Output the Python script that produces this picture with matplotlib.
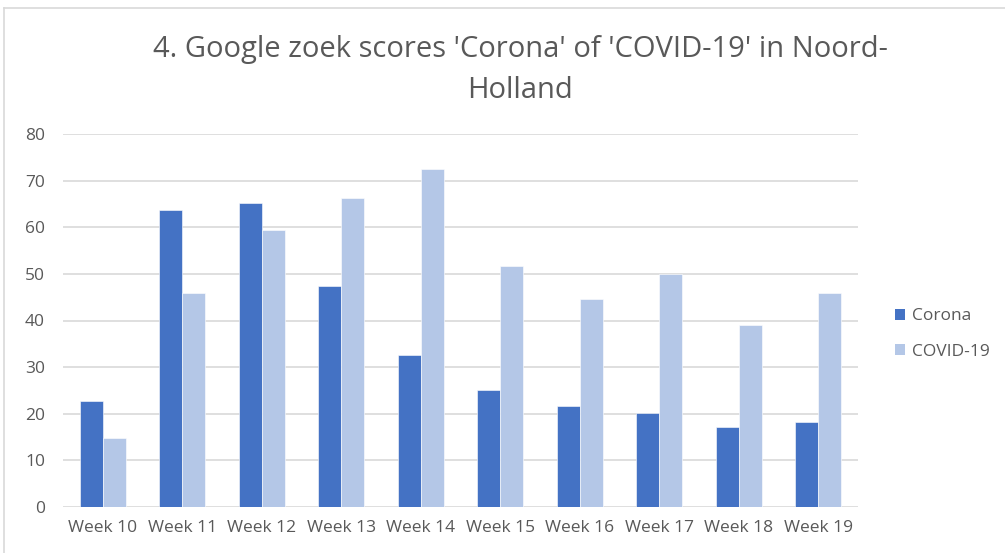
import matplotlib.pyplot as plt
import numpy as np
from matplotlib.patches import Patch
from matplotlib.lines import Line2D

# data
weeks = ['Week 10', 'Week 11', 'Week 12', 'Week 13', 'Week 14',
         'Week 15', 'Week 16', 'Week 17', 'Week 18', 'Week 19']
corona = [22.7, 63.6, 65.1, 47.3, 32.7, 25.1, 21.6, 20.1, 17.2, 18.3]
covid = [14.7, 45.9, 59.4, 66.2, 72.4, 51.6, 44.6, 50.0, 39.0, 45.9]
yticks = [0, 10, 20, 30, 40, 50, 60, 70, 80]

titel = "4. Google zoek scores 'Corona' of 'COVID-19' in Noord-\nHolland"
grijs = '#595959'
plt.rcParams['font.family'] = ['Open Sans', 'DejaVu Sans']

W, H = 1005, 553
fig = plt.figure(figsize=(W / 100, H / 100), dpi=100)
ax = fig.add_axes([63 / W, 1 - 507 / H, 795 / W, 373 / H])

x = np.arange(len(weeks))
bw = 0.29
ax.bar(x - bw / 2, corona, bw, color='#4472C4', edgecolor='white', linewidth=0.4, zorder=3)
ax.bar(x + bw / 2, covid, bw, color='#B4C7E7', edgecolor='white', linewidth=0.4, zorder=3)

ax.set_xlim(-0.5, len(weeks) - 0.5)
ax.set_ylim(0, 80)
ax.set_yticks(yticks)
ax.set_xticks(x)
ax.set_xticklabels(weeks)
ax.tick_params(length=0, labelsize=12.5, colors=grijs)
ax.tick_params(axis='x', pad=9)
ax.tick_params(axis='y', pad=13)
ax.grid(axis='y', color='#D9D9D9', linewidth=1.2, zorder=0)
for s in ax.spines.values():
    s.set_visible(False)

fig.text(520 / W, 1 - 70 / H, titel, ha='center', va='center', fontsize=21,
         color=grijs, linespacing=1.5)

handles = [Patch(facecolor='#4472C4'), Patch(facecolor='#B4C7E7')]
fig.legend(handles, ['Corona', 'COVID-19'], loc='center left',
           bbox_to_anchor=(879 / W, 1 - 334 / H), frameon=False,
           fontsize=12.5, labelcolor=grijs, handlelength=0.6, handleheight=0.6,
           handletextpad=0.4, labelspacing=1.1)

# chart border (top and left visible in the crop)
fig.add_artist(Line2D([4 / W, 4 / W], [0, 1 - 8 / H], color='#D9D9D9', lw=1.2))
fig.add_artist(Line2D([4 / W, 1], [1 - 8 / H, 1 - 8 / H], color='#D9D9D9', lw=1.2))

fig.savefig('out.png', dpi=100)
